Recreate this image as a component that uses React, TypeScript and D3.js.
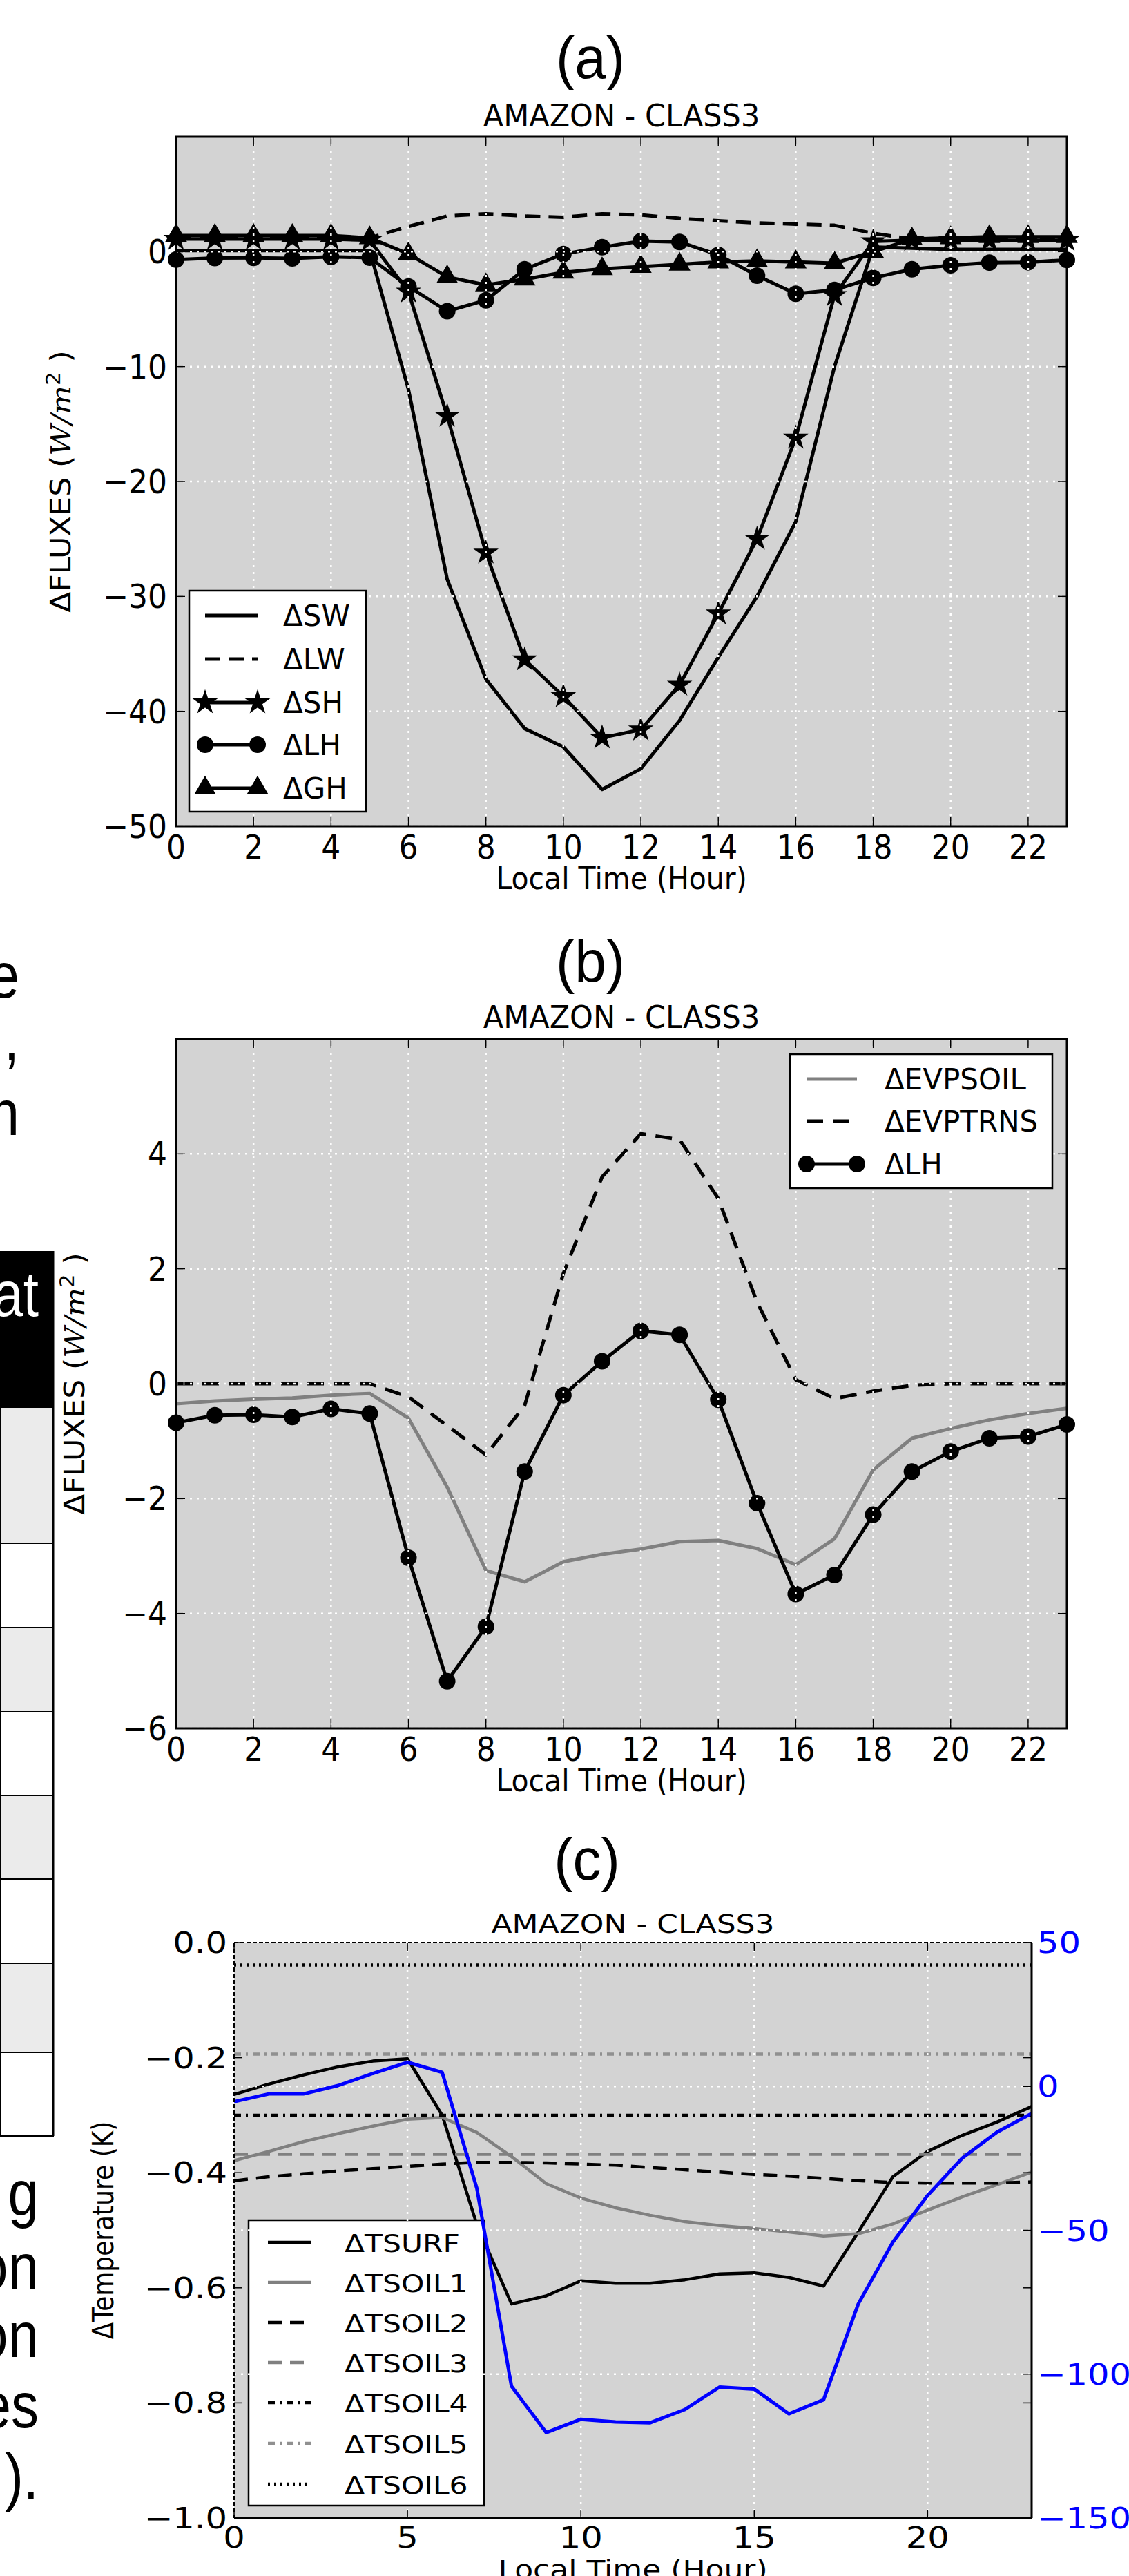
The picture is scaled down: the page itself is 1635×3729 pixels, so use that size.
import React from 'react'
import * as d3 from 'd3'

// hours of the day on every x axis
const HOURS = [0, 1, 2, 3, 4, 5, 6, 7, 8, 9, 10, 11, 12, 13, 14, 15, 16, 17, 18, 19, 20, 21, 22, 23]

// panel (a) - flux differences (W/m2)
const SW = [0.1, 0.1, 0.1, 0.1, 0.1, 0.1, -12, -28.5, -37.2, -41.5, -43.1, -46.8, -45, -40.8, -35.3, -30, -23.5, -10, 0.4, 0.3, 0.2, 0.2, 0.2, 0.2]
const LW = [1.2, 1.2, 1.2, 1.2, 1.2, 1.2, 2.2, 3.1, 3.3, 3.1, 3.0, 3.3, 3.2, 2.9, 2.7, 2.5, 2.4, 2.3, 1.6, 1.1, 1.1, 1.2, 1.2, 1.2]
const SH = [1.1, 1.1, 1.1, 1.1, 1.1, 1.0, -3.5, -14.3, -26.2, -35.5, -38.7, -42.3, -41.6, -37.7, -31.5, -25, -16.2, -3.8, 0.9, 1.0, 1.0, 1.0, 1.0, 1.0]
const LH = [-0.68, -0.55, -0.54, -0.58, -0.44, -0.52, -3.03, -5.18, -4.23, -1.53, -0.2, 0.39, 0.92, 0.85, -0.28, -2.08, -3.66, -3.33, -2.28, -1.53, -1.18, -0.95, -0.92, -0.71]
const GH = [1.4, 1.4, 1.4, 1.4, 1.4, 1.2, -0.2, -2.2, -2.9, -2.4, -1.8, -1.5, -1.3, -1.1, -0.9, -0.8, -0.9, -1.0, 0.0, 1.1, 1.2, 1.3, 1.3, 1.3]
const TICKS_A = [-50, -40, -30, -20, -10, 0]

// panel (b) - evaporation components
const EVPSOIL = [-0.35, -0.3, -0.27, -0.25, -0.2, -0.17, -0.6, -1.8, -3.25, -3.45, -3.1, -2.97, -2.88, -2.75, -2.73, -2.87, -3.15, -2.7, -1.5, -0.95, -0.78, -0.63, -0.52, -0.43]
const EVPTRNS = [0, 0, 0, 0, 0, 0, -0.23, -0.73, -1.24, -0.38, 1.92, 3.6, 4.35, 4.25, 3.22, 1.42, 0.07, -0.26, -0.13, -0.03, 0, 0, 0, 0]
const TICKS_B = [-6, -4, -2, 0, 2, 4]
const X_TICKS_AB = [0, 2, 4, 6, 8, 10, 12, 14, 16, 18, 20, 22]

// panel (c) - temperature differences (K) and right-axis series
const TSURF = [-0.264, -0.246, -0.23, -0.216, -0.206, -0.202, -0.3, -0.49, -0.628, -0.614, -0.588, -0.592, -0.592, -0.586, -0.576, -0.574, -0.582, -0.597, -0.503, -0.407, -0.363, -0.335, -0.312, -0.285]
const TSOIL1 = [-0.379, -0.363, -0.346, -0.332, -0.319, -0.307, -0.304, -0.33, -0.372, -0.419, -0.444, -0.461, -0.474, -0.485, -0.492, -0.497, -0.503, -0.51, -0.506, -0.489, -0.465, -0.442, -0.421, -0.399]
const TSOIL2 = [-0.414, -0.407, -0.402, -0.397, -0.393, -0.389, -0.385, -0.382, -0.382, -0.383, -0.385, -0.387, -0.391, -0.395, -0.399, -0.403, -0.406, -0.41, -0.414, -0.417, -0.418, -0.418, -0.418, -0.416]
const TSOIL3 = [-0.368, -0.368, -0.368, -0.368, -0.368, -0.368, -0.368, -0.368, -0.368, -0.368, -0.368, -0.368, -0.368, -0.368, -0.368, -0.368, -0.368, -0.368, -0.368, -0.368, -0.368, -0.368, -0.368, -0.368]
const TSOIL4 = [-0.3, -0.3, -0.3, -0.3, -0.3, -0.3, -0.3, -0.3, -0.3, -0.3, -0.3, -0.3, -0.3, -0.3, -0.3, -0.3, -0.3, -0.3, -0.3, -0.3, -0.3, -0.3, -0.3, -0.3]
const TSOIL5 = [-0.194, -0.194, -0.194, -0.194, -0.194, -0.194, -0.194, -0.194, -0.194, -0.194, -0.194, -0.194, -0.194, -0.194, -0.194, -0.194, -0.194, -0.194, -0.194, -0.194, -0.194, -0.194, -0.194, -0.194]
const TSOIL6 = [-0.039, -0.039, -0.039, -0.039, -0.039, -0.039, -0.039, -0.039, -0.039, -0.039, -0.039, -0.039, -0.039, -0.039, -0.039, -0.039, -0.039, -0.039, -0.039, -0.039, -0.039, -0.039, -0.039, -0.039]
const RIGHT_SERIES = [-5.3, -2.6, -2.6, 0.3, 4.5, 8.4, 4.9, -35.4, -104.2, -120.3, -115.7, -116.6, -116.9, -112.3, -104.5, -105.2, -113.8, -108.9, -75.6, -54.1, -37.9, -24.9, -15.9, -9.4]
const TICKS_CL = [0, -0.2, -0.4, -0.6, -0.8, -1.0]
const TICKS_CR = [50, 0, -50, -100, -150]
const X_TICKS_C = [0, 5, 10, 15, 20]

// scraps of the surrounding page text
const SCRAPS_TOP = ['e', ',', 'n']
const SCRAPS_BOTTOM = ['g', 'on', 'on', 'es', ').']

const SANS = 'DejaVu Sans, Bitstream Vera Sans, sans-serif'
const ARIAL = 'Liberation Sans, Arial, sans-serif'
const GRID = { stroke: '#ffffff', strokeWidth: 2.5, strokeDasharray: '3,7' }
const fmt = d3.format('d')
const fmt1 = d3.format('.1f')

function Txt({ x, y, size, sx = 1, sy = 1, rotate = 0, anchor = 'middle', family = SANS, fill = '#000', children }: any) {
  return (
    <text
      transform={`translate(${x},${y}) rotate(${rotate}) scale(${sx},${sy})`}
      fontSize={size}
      fontFamily={family}
      textAnchor={anchor}
      fill={fill}
    >
      {children}
    </text>
  )
}

function Marker({ kind, x, y }: any) {
  if (kind === 'circle') return <circle cx={x} cy={y} r={12} fill="#000" />
  const sym = kind === 'star' ? d3.symbolStar : d3.symbolTriangle
  const size = kind === 'star' ? 320 : 360
  return <path d={d3.symbol(sym, size)() as string} transform={`translate(${x},${y})`} fill="#000" stroke="#000" strokeWidth={1.5} />
}

function FluxPanel(p: any) {
  const L = 255, R = 1545
  const x = d3.scaleLinear().domain([0, 23]).range([L, R])
  const y = d3.scaleLinear().domain(p.domain).range([p.bottom, p.top])
  const line = d3.line<number>().x((_, i) => x(HOURS[i])).y(d => y(d))
  const lg = p.legend
  return (
    <g>
      <rect x={L} y={p.top} width={R - L} height={p.bottom - p.top} fill="#d3d3d3" />
      {p.series.map((s: any) => (
        <g key={s.name}>
          <path d={line(s.values) as string} fill="none" stroke={s.color} strokeWidth={5} strokeDasharray={s.dash} strokeLinejoin="round" />
          {s.marker && s.values.map((v: number, i: number) => <Marker key={i} kind={s.marker} x={x(HOURS[i])} y={y(v)} />)}
        </g>
      ))}
      {X_TICKS_AB.filter(t => t > 0).map(t => <line key={'gx' + t} x1={x(t)} x2={x(t)} y1={p.top} y2={p.bottom} {...GRID} />)}
      {p.ticks.map((t: number) => <line key={'gy' + t} x1={L} x2={R} y1={y(t)} y2={y(t)} {...GRID} />)}
      <rect x={L} y={p.top} width={R - L} height={p.bottom - p.top} fill="none" stroke="#000" strokeWidth={3} />
      {X_TICKS_AB.map(t => (
        <g key={'tx' + t}>
          <line x1={x(t)} x2={x(t)} y1={p.bottom} y2={p.bottom - 13} stroke="#000" strokeWidth={1.5} />
          <line x1={x(t)} x2={x(t)} y1={p.top} y2={p.top + 13} stroke="#000" strokeWidth={1.5} />
          <Txt x={x(t)} y={p.bottom + 47} size={44} sy={1.1}>{fmt(t)}</Txt>
        </g>
      ))}
      {p.ticks.map((t: number) => (
        <g key={'ty' + t}>
          <line x1={L} x2={L + 13} y1={y(t)} y2={y(t)} stroke="#000" strokeWidth={1.5} />
          <line x1={R} x2={R - 13} y1={y(t)} y2={y(t)} stroke="#000" strokeWidth={1.5} />
          <Txt x={242} y={y(t) + 17} size={44} sy={1.1} anchor="end">{fmt(t)}</Txt>
        </g>
      ))}
      <Txt x={855} y={p.tagY} size={82} sy={1.05} family={ARIAL}>{p.tag}</Txt>
      <Txt x={900} y={p.titleY} size={43} sy={1.05}>AMAZON - CLASS3</Txt>
      <Txt x={900} y={p.bottom + 91} size={41} sy={1.1}>Local Time (Hour)</Txt>
      <Txt x={p.ylabelX} y={(p.top + p.bottom) / 2} size={40} sx={1.1} rotate={-90}>
        {'ΔFLUXES ('}
        <tspan fontFamily="DejaVu Serif, serif" fontStyle="italic">W/m</tspan>
        <tspan dy={-15} fontSize={28}>2</tspan>
        <tspan dy={15}>{' )'}</tspan>
      </Txt>
      <rect x={lg.x} y={lg.y} width={lg.w} height={lg.h} fill="#fff" stroke="#000" strokeWidth={2.5} />
      {p.series.map((s: any, i: number) => {
        const cy = lg.rowY[i]
        return (
          <g key={'lg' + s.name}>
            <line x1={lg.s0} x2={lg.s1} y1={cy} y2={cy} stroke={s.color} strokeWidth={5} strokeDasharray={s.dash} />
            {s.marker && <Marker kind={s.marker} x={lg.s0} y={cy} />}
            {s.marker && <Marker kind={s.marker} x={lg.s1} y={cy} />}
            <Txt x={lg.tx} y={cy + 15} size={42} anchor="start">{s.name}</Txt>
          </g>
        )
      })}
    </g>
  )
}

function TempPanel() {
  const L = 339, R = 1494, T = 2812, B = 3645
  const x = d3.scaleLinear().domain([0, 23]).range([L, R])
  const yL = d3.scaleLinear().domain([-1, 0]).range([B, T])
  const yR = d3.scaleLinear().domain([-150, 50]).range([B, T])
  const lineL = d3.line<number>().x((_, i) => x(HOURS[i])).y(d => yL(d))
  const lineR = d3.line<number>().x((_, i) => x(HOURS[i])).y(d => yR(d))
  const series = [
    { name: 'ΔTSURF', values: TSURF, color: '#000', dash: undefined },
    { name: 'ΔTSOIL1', values: TSOIL1, color: '#808080', dash: undefined },
    { name: 'ΔTSOIL2', values: TSOIL2, color: '#000', dash: '20,12' },
    { name: 'ΔTSOIL3', values: TSOIL3, color: '#808080', dash: '20,12' },
    { name: 'ΔTSOIL4', values: TSOIL4, color: '#000', dash: '10,7,3,7' },
    { name: 'ΔTSOIL5', values: TSOIL5, color: '#909090', dash: '10,7,3,7' },
    { name: 'ΔTSOIL6', values: TSOIL6, color: '#000', dash: '3,6' },
  ]
  const legendY = [3246, 3304, 3362, 3420, 3478, 3537, 3596]
  const SX = 1.18
  return (
    <g>
      <rect x={L} y={T} width={R - L} height={B - T} fill="#d3d3d3" />
      {series.map(s => (
        <path key={s.name} d={lineL(s.values) as string} fill="none" stroke={s.color} strokeWidth={4.5} strokeDasharray={s.dash} strokeLinejoin="round" />
      ))}
      <rect x={360} y={3214} width={341} height={413} fill="#fff" stroke="#000" strokeWidth={2.5} />
      {series.map((s, i) => (
        <g key={'lg' + s.name}>
          <line x1={388} x2={451} y1={legendY[i]} y2={legendY[i]} stroke={s.color} strokeWidth={4.5} strokeDasharray={s.dash} />
          <Txt x={499} y={legendY[i] + 14} size={36} sx={SX} anchor="start">{s.name}</Txt>
        </g>
      ))}
      {X_TICKS_C.filter(t => t > 0).map(t => <line key={'gx' + t} x1={x(t)} x2={x(t)} y1={T} y2={B} {...GRID} />)}
      {TICKS_CR.filter(t => t < 50 && t > -150).map(t => <line key={'gy' + t} x1={L} x2={R} y1={yR(t)} y2={yR(t)} {...GRID} />)}
      <path d={lineR(RIGHT_SERIES) as string} fill="none" stroke="#0000ff" strokeWidth={5} strokeLinejoin="round" />
      <line x1={L} x2={R} y1={T} y2={T} stroke="#000" strokeWidth={2} strokeDasharray="6,3" />
      <line x1={L} x2={L} y1={T} y2={B} stroke="#000" strokeWidth={2} strokeDasharray="6,3" />
      <line x1={R} x2={R} y1={T} y2={B} stroke="#000" strokeWidth={3} />
      <line x1={L} x2={R} y1={B} y2={B} stroke="#000" strokeWidth={3} />
      {X_TICKS_C.map(t => (
        <g key={'tx' + t}>
          <line x1={x(t)} x2={x(t)} y1={B} y2={B - 12} stroke="#000" strokeWidth={1.5} />
          <line x1={x(t)} x2={x(t)} y1={T} y2={T + 12} stroke="#000" strokeWidth={1.5} />
          <Txt x={x(t)} y={3688} size={42} sx={SX}>{fmt(t)}</Txt>
        </g>
      ))}
      {TICKS_CL.map(t => (
        <g key={'tl' + t}>
          <line x1={L} x2={L + 12} y1={yL(t)} y2={yL(t)} stroke="#000" strokeWidth={1.5} />
          <line x1={R} x2={R - 12} y1={yL(t)} y2={yL(t)} stroke="#000" strokeWidth={1.5} />
          <Txt x={329} y={yL(t) + 15} size={42} sx={SX} anchor="end">{fmt1(t)}</Txt>
        </g>
      ))}
      {TICKS_CR.map(t => (
        <g key={'tr' + t}>
          <line x1={R} x2={R - 12} y1={yR(t)} y2={yR(t)} stroke="#000" strokeWidth={1.5} />
          <Txt x={1502} y={yR(t) + 15} size={42} sx={SX} anchor="start" fill="#0000ff">{fmt(t)}</Txt>
        </g>
      ))}
      <Txt x={850} y={2721} size={82} sy={1.05} family={ARIAL}>(c)</Txt>
      <Txt x={(L + R) / 2} y={2798} size={37} sx={1.19}>AMAZON - CLASS3</Txt>
      <Txt x={(L + R) / 2} y={3733} size={37} sx={1.19}>Local Time (Hour)</Txt>
      <Txt x={164} y={(T + B) / 2} size={36} sy={1.18} rotate={-90}>ΔTemperature (K)</Txt>
    </g>
  )
}

function PageScraps() {
  const rowEdges = [2037, 2234, 2356, 2478, 2599, 2720, 2842, 2971, 3092]
  const topY = [1444, 1535, 1643]
  const botY = [3207, 3313, 3412, 3514, 3617]
  return (
    <g>
      {SCRAPS_TOP.map((s, i) => (
        <Txt key={'t' + i} x={28} y={topY[i]} size={80} sy={1.15} family={ARIAL} anchor="end">{s}</Txt>
      ))}
      <rect x={0} y={1811} width={77} height={2037 - 1811} fill="#000" />
      <Txt x={56} y={1905} size={80} sy={1.15} family={ARIAL} anchor="end" fill="#fff">at</Txt>
      {rowEdges.slice(0, -1).map((e, i) => (
        <rect key={'r' + i} x={0} y={e} width={77} height={rowEdges[i + 1] - e} fill={i % 2 === 0 ? '#ebebeb' : '#fff'} stroke="#000" strokeWidth={2} />
      ))}
      <line x1={77} x2={77} y1={1811} y2={3092} stroke="#000" strokeWidth={3} />
      {SCRAPS_BOTTOM.map((s, i) => (
        <Txt key={'b' + i} x={56} y={botY[i]} size={80} sy={1.15} family={ARIAL} anchor="end">{s}</Txt>
      ))}
    </g>
  )
}

export default function App() {
  const seriesA = [
    { name: 'ΔSW', values: SW, color: '#000' },
    { name: 'ΔLW', values: LW, color: '#000', dash: '22,12' },
    { name: 'ΔSH', values: SH, color: '#000', marker: 'star' },
    { name: 'ΔLH', values: LH, color: '#000', marker: 'circle' },
    { name: 'ΔGH', values: GH, color: '#000', marker: 'triangle' },
  ]
  const seriesB = [
    { name: 'ΔEVPSOIL', values: EVPSOIL, color: '#808080' },
    { name: 'ΔEVPTRNS', values: EVPTRNS, color: '#000', dash: '24,14' },
    { name: 'ΔLH', values: LH, color: '#000', marker: 'circle' },
  ]
  return (
    <svg width={1635} height={3729} viewBox="0 0 1635 3729" style={{ position: 'absolute', left: 0, top: 0, display: 'block' }}>
      <rect width={1635} height={3729} fill="#fff" />
      <PageScraps />
      <FluxPanel
        top={198} bottom={1196} domain={[-50, 10]} ticks={TICKS_A} series={seriesA}
        tag="(a)" tagY={113} titleY={183} ylabelX={102}
        legend={{ x: 274, y: 855, w: 256, h: 320, s0: 297, s1: 373, tx: 410, rowY: [891, 954, 1017, 1078, 1141] }}
      />
      <FluxPanel
        top={1504} bottom={2502} domain={[-6, 6]} ticks={TICKS_B} series={seriesB}
        tag="(b)" tagY={1421} titleY={1488} ylabelX={122}
        legend={{ x: 1144, y: 1526, w: 380, h: 194, s0: 1168, s1: 1241, tx: 1281, rowY: [1562, 1623, 1685] }}
      />
      <TempPanel />
    </svg>
  )
}
